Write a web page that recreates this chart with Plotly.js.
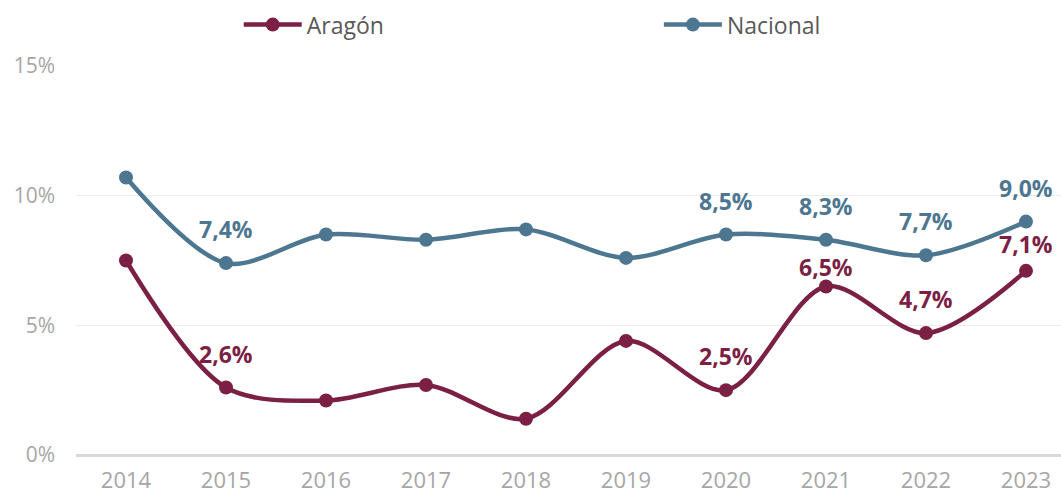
<!DOCTYPE html>
<html><head><meta charset="utf-8">
<script src="https://cdn.plot.ly/plotly-3.0.1.min.js"></script>
<style>html,body{margin:0;padding:0;background:#fff}#c{width:1061px;height:493px}</style>
</head><body><div id="c"></div>
<script>
const years = ['2014','2015','2016','2017','2018','2019','2020','2021','2022','2023'];
const aragon = [7.5, 2.6, 2.1, 2.7, 1.4, 4.4, 2.5, 6.5, 4.7, 7.1];
const nacional = [10.7, 7.4, 8.5, 8.3, 8.7, 7.6, 8.5, 8.3, 7.7, 9.0];
const aragonLabeled = [false, true, false, false, false, false, true, true, true, true];
const nacionalLabeled = [false, true, false, false, false, false, true, true, true, true];
const yTicks = [0, 5, 10, 15];
const yTickText = ['0%', '5%', '10%', '15%'];

const cA = '#7b1f45', cN = '#4d7690';
const FONT = 'Open Sans, sans-serif';
const fmt = v => v.toFixed(1).replace('.', ',') + '%';
const shiftA = {7: 19, 9: 27};

const annotations = [];
years.forEach((y, i) => {
  if (nacionalLabeled[i]) annotations.push({x: i, y: nacional[i], xref: 'x', yref: 'y', text: '<b>' + fmt(nacional[i]) + '</b>', showarrow: false, yshift: 34,
    font: {family: FONT, size: 23, color: cN}});
  if (aragonLabeled[i]) annotations.push({x: i, y: aragon[i], xref: 'x', yref: 'y', text: '<b>' + fmt(aragon[i]) + '</b>', showarrow: false, yshift: shiftA[i] || 34,
    font: {family: FONT, size: 23, color: cA}});
});

const traces = [
  {x: years, y: aragon, name: 'Aragón', type: 'scatter', mode: 'lines+markers', legend: 'legend',
   line: {color: cA, width: 4.5, shape: 'spline', smoothing: 0.9}, marker: {color: cA, size: 14}},
  {x: years, y: nacional, name: 'Nacional', type: 'scatter', mode: 'lines+markers', legend: 'legend2',
   line: {color: cN, width: 4.5, shape: 'spline', smoothing: 0.9}, marker: {color: cN, size: 14}}
];

const legendBase = {orientation: 'h', xanchor: 'left', yanchor: 'middle', xref: 'container', yref: 'container', y: 0.95,
  itemwidth: 58, bgcolor: 'rgba(0,0,0,0)', font: {family: FONT, size: 23, color: '#595959'}};

const layout = {
  width: 1061, height: 493,
  margin: {l: 76, r: 0, t: 66, b: 38},
  paper_bgcolor: '#fff', plot_bgcolor: '#fff',
  showlegend: true,
  legend: Object.assign({}, legendBase, {x: 0.225}),
  legend2: Object.assign({}, legendBase, {x: 0.621}),
  xaxis: {type: 'category', range: [-0.5, 9.35], showgrid: false, zeroline: false, showline: false,
    ticks: '', tickfont: {family: FONT, size: 22, color: '#a6a6a6'}, ticklabelstandoff: 10},
  yaxis: {range: [0, 15], tickmode: 'array', tickvals: yTicks, ticktext: yTickText, showgrid: true, gridcolor: '#ececec', gridwidth: 1,
    zeroline: true, zerolinecolor: '#d9d9d9', zerolinewidth: 3, showline: false,
    tickfont: {family: FONT, size: 21, color: '#a6a6a6'}, ticklabelstandoff: 20},
  annotations: annotations
};
try {
  Plotly.newPlot('c', traces, layout, {displayModeBar: false, staticPlot: true}).catch(e => { document.body.insertAdjacentHTML('beforeend', '<pre>' + e + '</pre>'); });
} catch (e) { document.body.insertAdjacentHTML('beforeend', '<pre>' + e + '</pre>'); }
</script></body></html>
